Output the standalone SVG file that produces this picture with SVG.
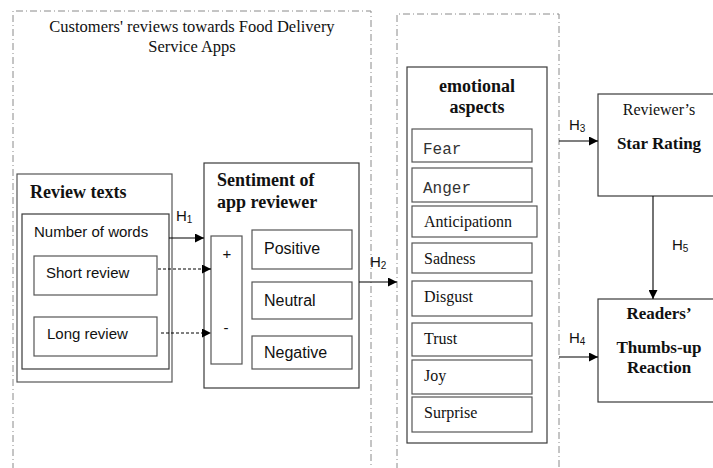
<svg xmlns="http://www.w3.org/2000/svg" width="713" height="468" viewBox="0 0 713 468">
<defs>
<marker id="ah" viewBox="0 0 10 10" refX="10" refY="5" markerWidth="9" markerHeight="9" markerUnits="userSpaceOnUse" orient="auto">
<path d="M0,0 L10,5 L0,10 Z" fill="#000"/>
</marker>
</defs>
<style>
.dash{fill:none;stroke:#8a8a8a;stroke-width:1;stroke-dasharray:7,3,1,3}
.box{fill:#fff;stroke:#3a3a3a;stroke-width:1.2}
.ibox{fill:#fff;stroke:#555;stroke-width:1.2}
.serif{font-family:"Liberation Serif","Times New Roman",serif;fill:#111}
.bold{font-weight:bold}
.sans{font-family:"Liberation Sans",Arial,sans-serif;fill:#111}
.mono{font-family:"Liberation Mono","Courier New",monospace;fill:#333}
.conn{stroke:#000;stroke-width:1.1;fill:none}
.dconn{stroke:#000;stroke-width:1;fill:none;stroke-dasharray:3,2}
</style>
<rect width="713" height="468" fill="#fff"/>

<g id="frame-left">
<path class="dash" d="M13,470 V11 H371 V470"/>
<text class="serif" font-size="16.5" x="192" y="32" text-anchor="middle">Customers' reviews towards Food Delivery</text>
<text class="serif" font-size="16.5" x="192" y="52" text-anchor="middle">Service Apps</text>
</g>
<g id="frame-right">
<path class="dash" d="M397,470 V14 H559 V470"/>
</g>

<g id="review-texts">
<rect class="ibox" x="17" y="174" width="155" height="208"/>
<text class="serif bold" font-size="18" x="30" y="198">Review texts</text>
<rect class="box" x="22" y="214" width="147" height="155"/>
<text class="sans" font-size="15" x="34" y="237">Number of words</text>
</g>
<g id="short-review">
<rect class="ibox" x="34" y="256" width="123" height="39"/>
<text class="sans" font-size="15" x="46" y="278">Short review</text>
</g>
<g id="long-review">
<rect class="ibox" x="34" y="317" width="123" height="39"/>
<text class="sans" font-size="15" x="47" y="339">Long review</text>
</g>

<g id="sentiment">
<rect class="box" x="204" y="163" width="155" height="225"/>
<text class="serif bold" font-size="18" x="217" y="186">Sentiment of</text>
<text class="serif bold" font-size="18" x="217" y="208">app reviewer</text>
</g>
<g id="polarity">
<rect class="ibox" x="211" y="236" width="31" height="128"/>
<text class="sans" font-size="15" x="227" y="259" text-anchor="middle">+</text>
<text class="sans" font-size="15" x="226" y="333" text-anchor="middle">-</text>
</g>
<g id="positive">
<rect class="ibox" x="252" y="230" width="100" height="39"/>
<text class="sans" font-size="16" x="264" y="254">Positive</text>
</g>
<g id="neutral">
<rect class="ibox" x="252" y="282" width="100" height="37"/>
<text class="sans" font-size="16" x="264" y="306">Neutral</text>
</g>
<g id="negative">
<rect class="ibox" x="252" y="336" width="100" height="33"/>
<text class="sans" font-size="16" x="264" y="358">Negative</text>
</g>

<g id="emotional-aspects">
<rect class="box" x="407" y="67" width="140" height="376"/>
<text class="serif bold" font-size="18" x="477" y="92" text-anchor="middle">emotional</text>
<text class="serif bold" font-size="18" x="477" y="113" text-anchor="middle">aspects</text>
</g>
<g id="fear"><rect class="ibox" x="412" y="129" width="120" height="33"/><text class="mono" font-size="16" x="423" y="154">Fear</text></g>
<g id="anger"><rect class="ibox" x="412" y="168" width="120" height="34"/><text class="mono" font-size="16" x="423" y="193">Anger</text></g>
<g id="anticipation"><rect class="ibox" x="412" y="206" width="125" height="31"/><text class="serif" font-size="16" x="424" y="227">Anticipationn</text></g>
<g id="sadness"><rect class="ibox" x="412" y="243" width="120" height="30"/><text class="serif" font-size="16" x="424" y="264">Sadness</text></g>
<g id="disgust"><rect class="ibox" x="412" y="281" width="120" height="35"/><text class="serif" font-size="16" x="424" y="302">Disgust</text></g>
<g id="trust"><rect class="ibox" x="412" y="323" width="120" height="33"/><text class="serif" font-size="16" x="424" y="344">Trust</text></g>
<g id="joy"><rect class="ibox" x="412" y="360" width="120" height="34"/><text class="serif" font-size="16" x="424" y="381">Joy</text></g>
<g id="surprise"><rect class="ibox" x="412" y="397" width="120" height="35"/><text class="serif" font-size="16" x="424" y="418">Surprise</text></g>

<g id="star-rating">
<rect class="box" x="598" y="94" width="130" height="102"/>
<text class="serif" font-size="16" x="659" y="115" text-anchor="middle">Reviewer’s</text>
<text class="serif bold" font-size="17" x="659" y="149" text-anchor="middle">Star Rating</text>
</g>
<g id="thumbs-up">
<rect class="box" x="598" y="299" width="130" height="103"/>
<text class="serif bold" font-size="17" x="659" y="319" text-anchor="middle">Readers’</text>
<text class="serif bold" font-size="17" x="659" y="353" text-anchor="middle">Thumbs-up</text>
<text class="serif bold" font-size="17" x="659" y="373" text-anchor="middle">Reaction</text>
</g>

<g id="connectors">
<line class="conn" x1="169" y1="238" x2="204" y2="238" marker-end="url(#ah)"/>
<text class="sans" font-size="15" x="176" y="221">H<tspan font-size="10" dy="2">1</tspan></text>
<line class="dconn" x1="158" y1="269" x2="211" y2="269" marker-end="url(#ah)"/>
<line class="dconn" x1="161" y1="333" x2="211" y2="333" marker-end="url(#ah)"/>
<line class="conn" x1="359" y1="282" x2="397" y2="282" marker-end="url(#ah)"/>
<text class="sans" font-size="15" x="370" y="267">H<tspan font-size="10" dy="2">2</tspan></text>
<line class="conn" x1="559" y1="141" x2="598" y2="141" marker-end="url(#ah)"/>
<text class="sans" font-size="15" x="569" y="130">H<tspan font-size="10" dy="2">3</tspan></text>
<line class="conn" x1="559" y1="357" x2="598" y2="357" marker-end="url(#ah)"/>
<text class="sans" font-size="15" x="569" y="343">H<tspan font-size="10" dy="2">4</tspan></text>
<line class="conn" x1="653" y1="196" x2="653" y2="299" marker-end="url(#ah)"/>
<text class="sans" font-size="15" x="672" y="250">H<tspan font-size="10" dy="2">5</tspan></text>
</g>
</svg>
